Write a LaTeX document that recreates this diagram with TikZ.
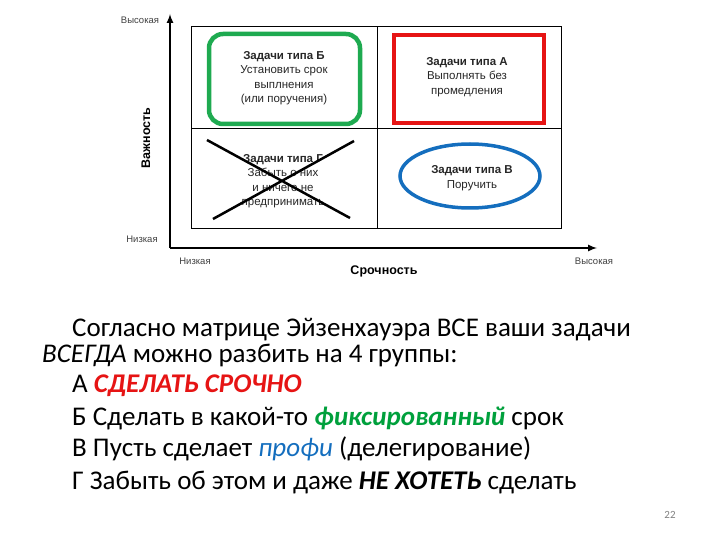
\documentclass[tikz,border=0pt]{standalone}
\usepackage{fontspec}
\setmainfont{Carlito}
\newfontfamily\arial{Liberation Sans}
\definecolor{gr}{RGB}{30,170,80}
\definecolor{rd}{RGB}{230,20,20}
\definecolor{bl}{RGB}{20,110,190}
\definecolor{gt}{RGB}{0,160,60}
\begin{document}
\begin{tikzpicture}[x=1pt,y=-1pt,
 small/.style={font=\arial\fontsize{9.5}{11}\selectfont, text=black!75},
 cell/.style={font=\arial\fontsize{11.5}{14.5}\selectfont, align=center, text=black!85},
 body/.style={anchor=west, font=\fontsize{27}{30}\selectfont, inner sep=0pt}]
\useasboundingbox (0,0) rectangle (720,540);
\coordinate (o) at (170,248);
\coordinate (yt) at (170,14);
\coordinate (xr) at (597,248);
\draw[line width=2pt,-latex] (o) -- (yt);
\draw[line width=2pt,-latex] (o) -- (xr);
\draw[line width=1pt] (191,27) rectangle (561,229);
\draw[line width=1pt] (377,27) -- (377,229) (191,129) -- (561,129);
\draw[gr,line width=4.5pt,rounded corners=14pt] (209,34) rectangle (360,124);
\draw[rd,line width=4.5pt] (394,35) rectangle (544,123);
\draw[bl,line width=3.5pt] (470,176) ellipse (70 and 32);
\node[small] (hy) at (140,20) {Высокая};
\node[small] (ly) at (142,239) {Низкая};
\node[small] (lx) at (195,261) {Низкая};
\node[small] (hx) at (594,261) {Высокая};
\node[font=\arial\bfseries\fontsize{12.5}{14}\selectfont] (sx) at (384,271) {Срочность};
\node[font=\arial\bfseries\fontsize{12.5}{14}\selectfont,rotate=90] (sy) at (146,138) {Важность};
\node[cell] (b) at (284,78) {\textbf{Задачи типа Б}\\Установить срок\\выплнения\\(или поручения)};
\node[cell] (a) at (467,77) {\textbf{Задачи типа А}\\Выполнять без\\промедления};
\node[cell] (g) at (283,181) {\textbf{Задачи типа Г}\\Забыть о них\\и ничего не\\предпринимать};
\node[cell] (v) at (472,178) {\textbf{Задачи типа В}\\Поручить};
\coordinate (c1) at (207,140); \coordinate (c2) at (350,218);
\coordinate (c3) at (213,219); \coordinate (c4) at (354,141);
\draw[line width=2.5pt] (c1) -- (c2) (c3) -- (c4);
\node[body] (t1) at (72,330) {Согласно матрице Эйзенхауэра ВСЕ ваши задачи};
\node[body] (t2) at (42,355) {\textit{ВСЕГДА} можно разбить на 4 группы:};
\node[body] (t3) at (72,386) {А \textcolor{rd}{\textbf{\textit{СДЕЛАТЬ СРОЧНО}}}};
\node[body] (t4) at (72,418) {Б Сделать в какой-то \textcolor{gt}{\textbf{\textit{фиксированный}}} срок};
\node[body] (t5) at (72,449) {В Пусть сделает \textcolor{bl}{\textit{профи}} (делегирование)};
\node[body] (t6) at (72,483) {Г Забыть об этом и даже \textbf{\textit{НЕ ХОТЕТЬ}} сделать};
\node[font=\fontsize{11}{12}\selectfont,text=black!50] (pn) at (670,515) {22};
\end{tikzpicture}
\end{document}
